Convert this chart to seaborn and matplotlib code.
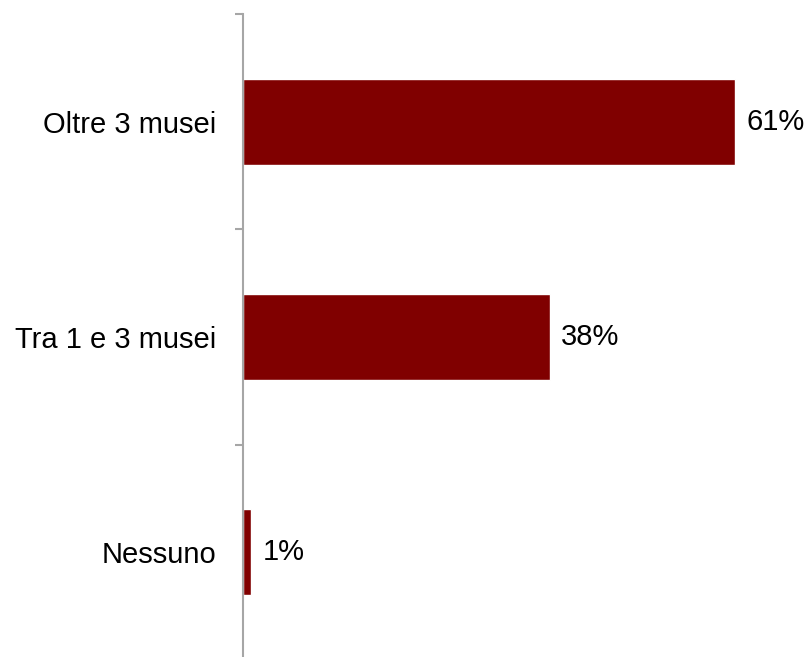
import numpy as np
import pandas as pd
import matplotlib.pyplot as plt
import seaborn as sns

# Dati
categorie = ['Oltre 3 musei', 'Tra 1 e 3 musei', 'Nessuno']
valori = [61, 38, 1]
etichette = ['61%', '38%', '1%']

df = pd.DataFrame({'Categoria': categorie, 'Valore': valori})

sns.set_style("white")
plt.rcParams['font.family'] = ['Liberation Sans', 'DejaVu Sans']

fig = plt.figure(figsize=(8.08, 6.57), dpi=100)
ax = fig.add_axes([243 / 808, 1 - 660 / 657, 565 / 808, (660 - 14) / 657])

sns.barplot(data=df, x='Valore', y='Categoria', color='#800000', saturation=1,
            width=0.4, ax=ax)

# Etichette dei valori
for i, (v, t) in enumerate(zip(valori, etichette)):
    ax.text(v + 1.4, i, t, va='center', ha='left', fontsize=21, color='black')

ax.set_xlim(0, 70)
ax.set_ylim(2.5, -0.5)
ax.set_xlabel('')
ax.set_ylabel('')
ax.set_xticks([])

# Asse verticale grigio con tacche tra le categorie
for s in ['top', 'right', 'bottom']:
    ax.spines[s].set_visible(False)
ax.spines['left'].set_color('#A6A6A6')
ax.spines['left'].set_linewidth(1.5)
ax.tick_params(axis='y', which='major', length=0, pad=19, labelsize=21, labelcolor='black')
ax.set_yticks([-0.5, 0.5, 1.5, 2.5], minor=True)
ax.tick_params(axis='y', which='minor', length=6, width=1.5, color='#A6A6A6', left=True)

fig.savefig('out.png', dpi=100)
